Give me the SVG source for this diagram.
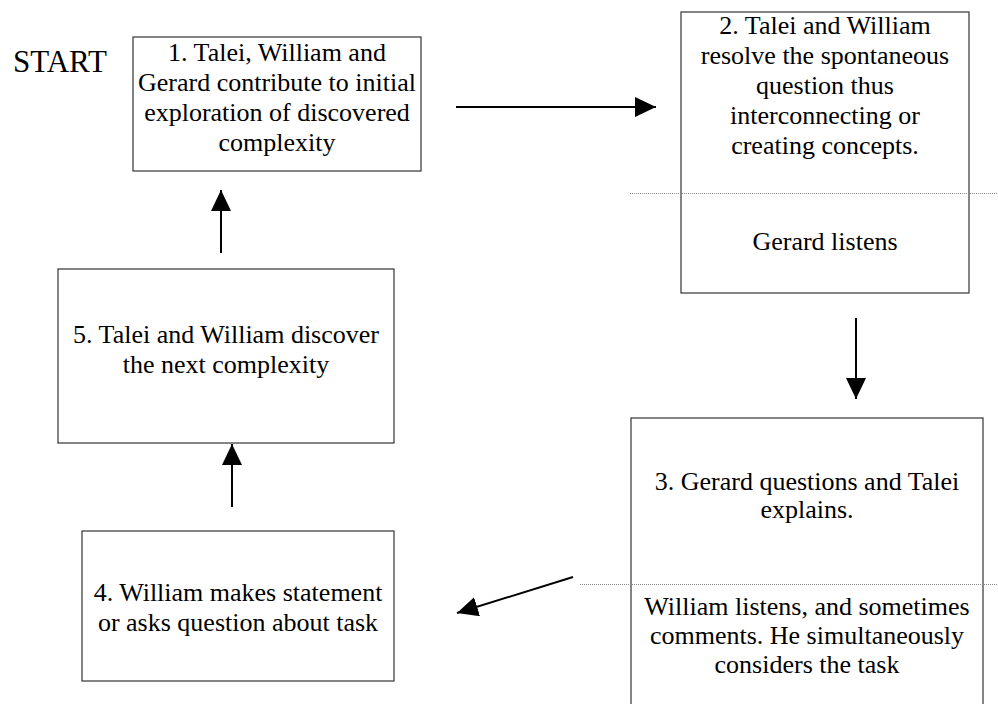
<svg xmlns="http://www.w3.org/2000/svg" width="998" height="704" viewBox="0 0 998 704">
<style>
.box{fill:#fff;stroke:#333;stroke-width:1.2}
.t{font-size:26px;fill:#000;text-anchor:middle}
.dot{stroke:#888;stroke-width:1;stroke-dasharray:1 1}
.arr{stroke:#000;stroke-width:2;fill:none;marker-end:url(#ah)}
</style>
<defs>
<marker id="ah" viewBox="0 0 21 20" refX="21" refY="10" markerWidth="21" markerHeight="20" markerUnits="userSpaceOnUse" orient="auto">
<path d="M0,0 L21,10 L0,20 z" fill="#000"/>
</marker>
</defs>
<rect width="998" height="704" fill="#fff"/>
<text x="13" y="72" font-family="Liberation Serif" font-size="31">START</text>
<g id="node1">
<rect class="box" x="133" y="37" width="288" height="134"/>
<text class="t" font-family="Liberation Serif" x="277" y="61">1. Talei, William and</text>
<text class="t" font-family="Liberation Serif" x="277" y="91">Gerard contribute to initial</text>
<text class="t" font-family="Liberation Serif" x="277" y="121">exploration of discovered</text>
<text class="t" font-family="Liberation Serif" x="277" y="151">complexity</text>
</g>
<g id="node2">
<rect class="box" x="681" y="12" width="288" height="281"/>
<text class="t" font-family="Liberation Serif" x="825" y="34">2. Talei and William</text>
<text class="t" font-family="Liberation Serif" x="825" y="64">resolve the spontaneous</text>
<text class="t" font-family="Liberation Serif" x="825" y="94">question thus</text>
<text class="t" font-family="Liberation Serif" x="825" y="124">interconnecting or</text>
<text class="t" font-family="Liberation Serif" x="825" y="154">creating concepts.</text>
<line class="dot" x1="630" y1="193.5" x2="998" y2="193.5"/>
<text class="t" font-family="Liberation Serif" x="825" y="250">Gerard listens</text>
</g>
<g id="node3">
<rect class="box" x="631" y="418" width="352" height="300"/>
<text class="t" font-family="Liberation Serif" x="807" y="490">3. Gerard questions and Talei</text>
<text class="t" font-family="Liberation Serif" x="807" y="518">explains.</text>
<line class="dot" x1="580" y1="584.5" x2="998" y2="584.5"/>
<text class="t" font-family="Liberation Serif" x="807" y="615">William listens, and sometimes</text>
<text class="t" font-family="Liberation Serif" x="807" y="644">comments. He simultaneously</text>
<text class="t" font-family="Liberation Serif" x="807" y="673">considers the task</text>
</g>
<g id="node4">
<rect class="box" x="82" y="531" width="312" height="150"/>
<text class="t" font-family="Liberation Serif" x="238" y="601">4. William makes statement</text>
<text class="t" font-family="Liberation Serif" x="238" y="631">or asks question about task</text>
</g>
<g id="node5">
<rect class="box" x="58" y="269" width="336" height="174"/>
<text class="t" font-family="Liberation Serif" x="226" y="343">5. Talei and William discover</text>
<text class="t" font-family="Liberation Serif" x="226" y="373">the next complexity</text>
</g>
<g id="connectors">
<line class="arr" x1="456" y1="107" x2="656" y2="107"/>
<line class="arr" x1="856" y1="318" x2="856" y2="399"/>
<line class="arr" x1="573" y1="577" x2="457" y2="613"/>
<line class="arr" x1="232" y1="507" x2="232" y2="444"/>
<line class="arr" x1="221" y1="253" x2="221" y2="190"/>
</g>
</svg>
